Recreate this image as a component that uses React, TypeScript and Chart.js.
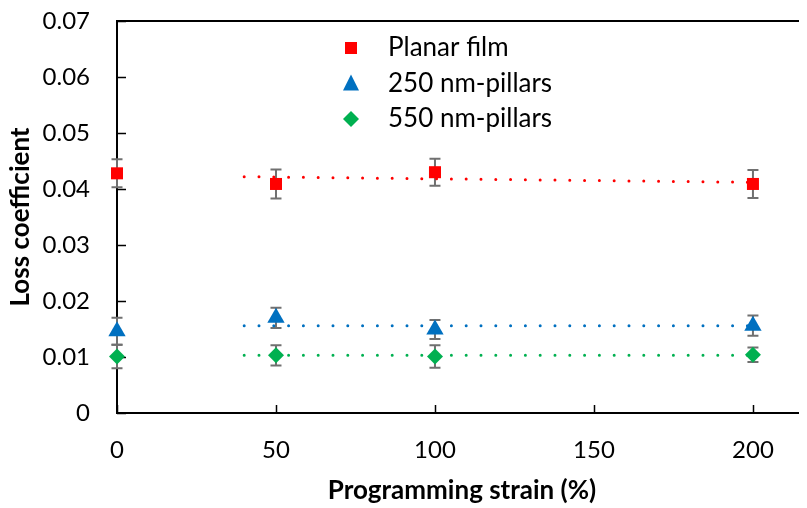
import React, { useEffect, useRef } from 'react';
import { Chart, registerables } from 'chart.js';

Chart.register(...registerables);

// ---- data ----
const strain = [0, 50, 100, 200];
const planarFilm = [0.0428, 0.0409, 0.0430, 0.0409];
const planarErr = [0.0025, 0.0026, 0.0024, 0.0025];
const pillars250 = [0.0146, 0.0170, 0.0149, 0.0156];
const pillars250Err = [0.0024, 0.0018, 0.0017, 0.0018];
const pillars550 = [0.0101, 0.0103, 0.0101, 0.0104];
const pillars550Err = [0.0021, 0.0018, 0.0020, 0.0013];

const trendX = [40, 200];
const planarTrend = [0.0422, 0.0412];
const pillars250Trend = [0.0156, 0.0156];
const pillars550Trend = [0.0103, 0.0103];

const xTicks = [0, 50, 100, 150, 200];
const yTicks = [0, 0.01, 0.02, 0.03, 0.04, 0.05, 0.06, 0.07];

const seriesNames = ['Planar film', '250 nm-pillars', '550 nm-pillars'];
const seriesColors = ['#FF0000', '#0070C0', '#00B050'];
const seriesShapes = ['rect', 'triangle', 'rectRot'];

const toPts = (xs: number[], ys: number[]) => xs.map((x, i) => ({ x, y: ys[i] }));

function drawShape(ctx: CanvasRenderingContext2D, shape: string, x: number, y: number, color: string) {
  ctx.save();
  ctx.fillStyle = color;
  ctx.beginPath();
  if (shape === 'rect') {
    ctx.rect(x - 6, y - 6, 12, 12);
  } else if (shape === 'triangle') {
    ctx.moveTo(x, y - 9);
    ctx.lineTo(x + 8, y + 7);
    ctx.lineTo(x - 8, y + 7);
    ctx.closePath();
  } else {
    ctx.moveTo(x, y - 8);
    ctx.lineTo(x + 8, y);
    ctx.lineTo(x, y + 8);
    ctx.lineTo(x - 8, y);
    ctx.closePath();
  }
  ctx.fill();
  ctx.restore();
}

const errorSets = [
  { vals: planarFilm, errs: planarErr },
  { vals: pillars250, errs: pillars250Err },
  { vals: pillars550, errs: pillars550Err },
];

const axesPlugin = {
  id: 'axesPlugin',
  beforeDatasetsDraw(chart: any) {
    const { ctx, chartArea } = chart;
    const xs = chart.scales.x;
    const ys = chart.scales.y;
    ctx.save();
    ctx.strokeStyle = '#000';
    ctx.lineWidth = 2;
    ctx.beginPath();
    ctx.moveTo(chartArea.left, chartArea.top);
    ctx.lineTo(chartArea.right, chartArea.top);
    ctx.moveTo(chartArea.left, chartArea.top - 1);
    ctx.lineTo(chartArea.left, chartArea.bottom);
    ctx.lineTo(chartArea.right, chartArea.bottom);
    ctx.stroke();
    ctx.lineWidth = 1.5;
    ctx.beginPath();
    yTicks.forEach((v) => {
      const py = Math.round(ys.getPixelForValue(v)) + 0.5;
      ctx.moveTo(chartArea.left, py);
      ctx.lineTo(chartArea.left + 9, py);
    });
    xTicks.forEach((v) => {
      const px = Math.round(xs.getPixelForValue(v)) + 0.5;
      ctx.moveTo(px, chartArea.bottom);
      ctx.lineTo(px, chartArea.bottom - 8);
    });
    ctx.stroke();

    // x tick labels
    ctx.fillStyle = '#000';
    ctx.font = '24px Lato';
    ctx.textAlign = 'center';
    ctx.textBaseline = 'middle';
    xTicks.forEach((v) => {
      ctx.fillText(String(v), xs.getPixelForValue(v), chartArea.bottom + 37);
    });

    // error bars
    ctx.strokeStyle = '#707070';
    ctx.lineWidth = 2;
    errorSets.forEach((s) => {
      strain.forEach((xv, i) => {
        const px = xs.getPixelForValue(xv);
        const top = ys.getPixelForValue(s.vals[i] + s.errs[i]);
        const bot = ys.getPixelForValue(s.vals[i] - s.errs[i]);
        ctx.beginPath();
        ctx.moveTo(px, top);
        ctx.lineTo(px, bot);
        ctx.moveTo(px - 5.5, top);
        ctx.lineTo(px + 5.5, top);
        ctx.moveTo(px - 5.5, bot);
        ctx.lineTo(px + 5.5, bot);
        ctx.stroke();
      });
    });
    ctx.restore();
  },
  afterDatasetsDraw(chart: any) {
    const { ctx, chartArea } = chart;
    ctx.save();
    ctx.font = '26px Lato';
    ctx.fillStyle = '#000';
    ctx.textBaseline = 'middle';
    ctx.textAlign = 'left';
    seriesNames.forEach((name, i) => {
      const y = chartArea.top + 27 + i * 35.5;
      drawShape(ctx, seriesShapes[i], chartArea.left + 234, y, seriesColors[i]);
      ctx.fillText(name, chartArea.left + 271, y);
    });
    ctx.restore();
  },
};

export default function App() {
  const canvasRef = useRef<HTMLCanvasElement | null>(null);

  useEffect(() => {
    if (!canvasRef.current) return;
    Chart.defaults.font.family = 'Lato';
    Chart.defaults.color = '#000';

    const trend = (ys: number[], color: string) => ({
      type: 'line' as const,
      data: toPts(trendX, ys),
      borderColor: color,
      borderWidth: 3,
      borderDash: [0, 14.8],
      borderCapStyle: 'round' as const,
      pointRadius: 0,
      showLine: true,
      fill: false,
      clip: false as any,
      order: 5,
    });
    const scatter = (ys: number[], color: string, shape: string, r: number) => ({
      type: 'scatter' as const,
      data: toPts(strain, ys),
      backgroundColor: color,
      borderColor: color,
      borderWidth: 0,
      pointStyle: shape as any,
      pointRadius: r,
      pointBorderWidth: 0,
      clip: false as any,
      order: 1,
    });

    const chart = new Chart(canvasRef.current, {
      type: 'scatter',
      data: {
        datasets: [
          trend(planarTrend, seriesColors[0]),
          trend(pillars250Trend, seriesColors[1]),
          trend(pillars550Trend, seriesColors[2]),
          scatter(planarFilm, seriesColors[0], 'rect', 8.5),
          scatter(pillars250, seriesColors[1], 'triangle', 10),
          scatter(pillars550, seriesColors[2], 'rectRot', 8),
        ] as any,
      },
      options: {
        responsive: false,
        animation: false,
        layout: { autoPadding: false, padding: { top: 13, right: 0, bottom: 0, left: 0 } },
        plugins: {
          legend: { display: false },
          tooltip: { enabled: false },
        },
        scales: {
          x: {
            type: 'linear',
            min: 0,
            max: 217,
            grid: { display: false, drawTicks: false },
            border: { display: false },
            afterBuildTicks: (scale: any) => {
              scale.ticks = xTicks.map((v) => ({ value: v }));
            },
            afterFit: (scale: any) => {
              scale.height = 95;
              scale.paddingLeft = 0;
              scale.paddingRight = 0;
              scale.paddingTop = 0;
              scale.paddingBottom = 0;
            },
            ticks: { display: false },
            title: {
              display: true,
              text: 'Programming strain (%)',
              font: { size: 26, weight: 'bold', lineHeight: 1.2 },
              padding: { top: 0, bottom: 2 },
            },
          },
          y: {
            type: 'linear',
            min: 0,
            max: 0.07,
            grid: { display: false, drawTicks: false },
            border: { display: false },
            afterBuildTicks: (scale: any) => {
              scale.ticks = yTicks.map((v) => ({ value: v }));
            },
            afterFit: (scale: any) => {
              scale.width = 109;
              scale.paddingLeft = 0;
              scale.paddingRight = 0;
              scale.paddingTop = 0;
              scale.paddingBottom = 0;
            },
            ticks: {
              padding: 27,
              font: { size: 24, lineHeight: 1 },
              callback: (v: any) => (v === 0 ? '0' : Number(v).toFixed(2)),
            },
            title: {
              display: true,
              text: 'Loss coefficient',
              font: { size: 26, weight: 'bold', lineHeight: 1 },
              padding: { top: 0, bottom: 0 },
            },
          },
        },
      },
      plugins: [axesPlugin],
    });
    return () => chart.destroy();
  }, []);

  return (
    <div style={{ width: 799, height: 500 }}>
      <canvas ref={canvasRef} width={799} height={500} style={{ display: 'block' }} />
    </div>
  );
}
